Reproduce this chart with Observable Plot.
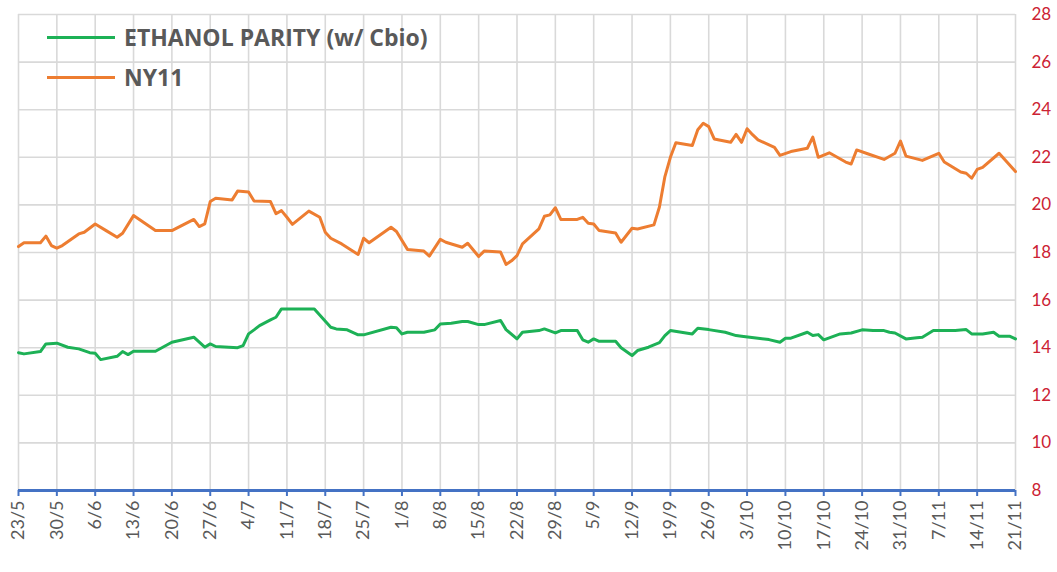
<!DOCTYPE html>
<html>
<head>
<meta charset="utf-8">
<script src="https://cdn.jsdelivr.net/npm/d3@7"></script>
<script src="https://cdn.jsdelivr.net/npm/@observablehq/plot@0.6"></script>
<style>
  html, body { margin: 0; padding: 0; background: #fff; }
  #wrap { position: relative; width: 1057px; height: 572px; }
  .legend { position: absolute; left: 47px; height: 28px; font-family: "Open Sans", Lato, sans-serif; font-weight: bold; font-size: 23px; color: #595959; display: flex; align-items: center; line-height: 28px; }
  .legend .sw { width: 68px; height: 3px; margin-right: 9px; }
</style>
</head>
<body>
<div id="wrap"></div>
<script>
// ---- data (d/m, year 2022) ----
const tickLabels = ["23/5","30/5","6/6","13/6","20/6","27/6","4/7","11/7","18/7","25/7","1/8","8/8","15/8","22/8","29/8","5/9","12/9","19/9","26/9","3/10","10/10","17/10","24/10","31/10","7/11","14/11","21/11"];
const yTickValues = [8,10,12,14,16,18,20,22,24,26,28];

const ny11Dates = ["23/5","24/5","27/5","28/5","29/5","30/5","31/5","3/6","4/6","6/6","8/6","10/6","11/6","13/6","17/6","20/6","24/6","25/6","26/6","27/6","28/6","1/7","2/7","4/7","5/7","8/7","9/7","10/7","11/7","12/7","15/7","17/7","18/7","19/7","21/7","24/7","25/7","26/7","30/7","31/7","2/8","5/8","6/8","8/8","9/8","12/8","13/8","15/8","16/8","19/8","20/8","21/8","22/8","23/8","26/8","27/8","28/8","29/8","30/8","2/9","3/9","4/9","5/9","6/9","9/9","10/9","12/9","13/9","16/9","17/9","18/9","19/9","20/9","23/9","24/9","25/9","26/9","27/9","30/9","1/10","2/10","3/10","4/10","5/10","8/10","9/10","11/10","14/10","15/10","16/10","18/10","21/10","22/10","23/10","25/10","28/10","30/10","31/10","1/11","4/11","7/11","8/11","11/11","12/11","13/11","14/11","15/11","18/11","21/11"];
const ny11Values = [18.25,18.41,18.41,18.69,18.29,18.18,18.29,18.78,18.85,19.2,18.92,18.64,18.81,19.55,18.92,18.92,19.39,19.09,19.2,20.14,20.28,20.21,20.58,20.54,20.16,20.14,19.63,19.76,19.48,19.18,19.74,19.48,18.85,18.6,18.36,17.92,18.6,18.41,19.06,18.88,18.13,18.06,17.85,18.55,18.43,18.22,18.39,17.83,18.06,18.02,17.5,17.65,17.87,18.36,18.99,19.52,19.58,19.88,19.39,19.39,19.48,19.23,19.2,18.92,18.82,18.43,19.02,18.99,19.16,19.91,21.19,22.0,22.61,22.5,23.16,23.43,23.29,22.77,22.63,22.96,22.63,23.2,22.95,22.73,22.42,22.08,22.24,22.38,22.85,22.0,22.19,21.8,21.72,22.31,22.15,21.91,22.17,22.68,22.05,21.87,22.17,21.8,21.38,21.33,21.12,21.49,21.58,22.17,21.4];

const ethanolDates = ["23/5","24/5","27/5","28/5","30/5","1/6","3/6","5/6","6/6","7/6","10/6","11/6","12/6","13/6","17/6","20/6","24/6","26/6","27/6","28/6","2/7","3/7","4/7","5/7","6/7","8/7","9/7","10/7","16/7","19/7","20/7","22/7","24/7","25/7","30/7","31/7","1/8","2/8","5/8","7/8","8/8","10/8","12/8","13/8","15/8","16/8","19/8","20/8","22/8","23/8","26/8","27/8","29/8","30/8","2/9","3/9","4/9","5/9","6/9","9/9","10/9","12/9","13/9","15/9","17/9","18/9","19/9","23/9","24/9","26/9","29/9","1/10","2/10","5/10","7/10","9/10","10/10","11/10","14/10","15/10","16/10","17/10","20/10","22/10","24/10","26/10","28/10","29/10","30/10","1/11","3/11","4/11","6/11","10/11","12/11","13/11","15/11","17/11","18/11","20/11","21/11"];
const ethanolValues = [13.79,13.74,13.84,14.16,14.19,14.02,13.95,13.79,13.77,13.5,13.64,13.84,13.71,13.85,13.85,14.23,14.44,14.02,14.16,14.05,14.0,14.09,14.58,14.75,14.93,15.17,15.28,15.63,15.63,14.86,14.79,14.75,14.54,14.54,14.86,14.84,14.58,14.65,14.65,14.75,15.0,15.03,15.1,15.1,14.97,14.97,15.14,14.76,14.37,14.65,14.72,14.79,14.62,14.72,14.72,14.33,14.23,14.37,14.27,14.27,14.0,13.67,13.88,14.02,14.21,14.51,14.72,14.58,14.82,14.76,14.65,14.51,14.48,14.4,14.34,14.23,14.4,14.4,14.65,14.51,14.55,14.33,14.58,14.62,14.75,14.72,14.72,14.65,14.62,14.37,14.42,14.44,14.72,14.72,14.76,14.58,14.58,14.65,14.48,14.48,14.37];

const seriesNames = ["ETHANOL PARITY (w/ Cbio)", "NY11"];
const seriesColors = ["#1db156", "#ed7d31"];

// ---- build ----
const parse = s => { const [d, m] = s.split("/").map(Number); return new Date(Date.UTC(2022, m - 1, d)); };
const fmt = d => `${d.getUTCDate()}/${d.getUTCMonth() + 1}`;
const tickDates = tickLabels.map(parse);
const ethanol = ethanolDates.map((d, i) => ({date: parse(d), value: ethanolValues[i]}));
const ny11 = ny11Dates.map((d, i) => ({date: parse(d), value: ny11Values[i]}));

const chart = Plot.plot({
  width: 1057,
  height: 572,
  marginLeft: 18,
  marginRight: 42,
  marginTop: 14,
  marginBottom: 82,
  style: {fontFamily: "'Open Sans', Lato, sans-serif", fontSize: "16px", background: "#fff"},
  x: {type: "utc", domain: [tickDates[0], tickDates[tickDates.length - 1]]},
  y: {domain: [8, 28]},
  marks: [
    Plot.gridX(tickDates, {stroke: "#d9d9d9", strokeOpacity: 1, strokeWidth: 1.6}),
    Plot.gridY(yTickValues, {stroke: "#d9d9d9", strokeOpacity: 1, strokeWidth: 1.6}),
    Plot.axisY(yTickValues, {anchor: "right", tickSize: 0, tickPadding: 16, fill: "#cc2233", fontSize: 17, fontFamily: "Lato, sans-serif", label: null}),
    Plot.axisX(tickDates, {anchor: "bottom", tickSize: 6, stroke: "#4472c4", strokeWidth: 2, tickRotate: -90, tickPadding: 4, tickFormat: fmt, fill: "#595959", fontSize: 18, fontFamily: "Lato, sans-serif", label: null}),
    Plot.ruleY([8], {stroke: "#4472c4", strokeWidth: 3}),
    Plot.lineY(ethanol, {x: "date", y: "value", stroke: seriesColors[0], strokeWidth: 3}),
    Plot.lineY(ny11, {x: "date", y: "value", stroke: seriesColors[1], strokeWidth: 3})
  ]
});

const wrap = document.getElementById("wrap");
wrap.appendChild(chart);
seriesNames.forEach((name, i) => {
  const row = document.createElement("div");
  row.className = "legend";
  row.style.top = (23 + i * 40) + "px";
  const sw = document.createElement("span");
  sw.className = "sw";
  sw.style.background = seriesColors[i];
  const t = document.createElement("span");
  t.textContent = name;
  row.appendChild(sw);
  row.appendChild(t);
  wrap.appendChild(row);
});
</script>
</body>
</html>
